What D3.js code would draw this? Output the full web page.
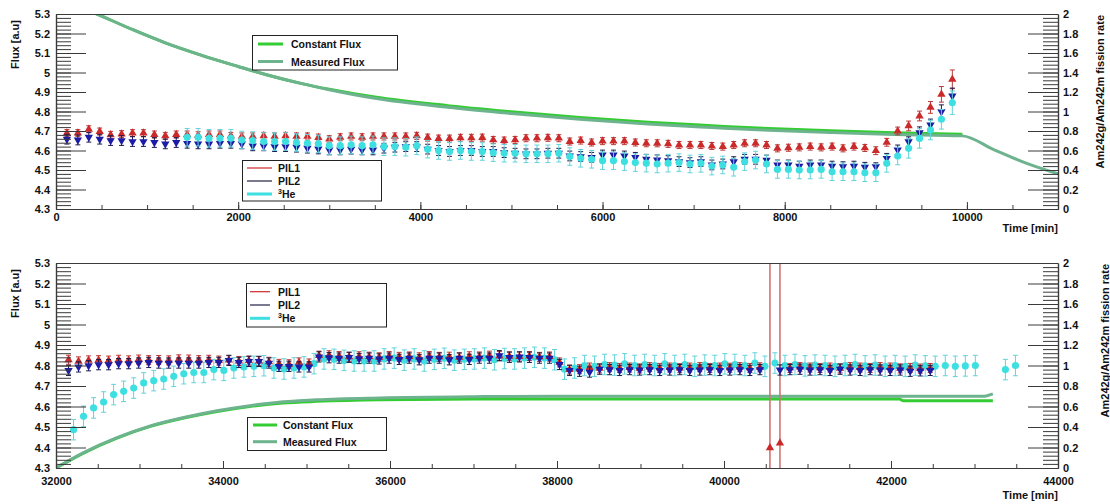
<!DOCTYPE html>
<html lang="en">
<head>
<meta charset="UTF-8">
<title>Flux and Am242g/Am242m fission rate</title>
<script src="https://d3js.org/d3.v7.min.js"></script>
<style>
    body { margin: 0; background: #fff; }
    svg text { font-family: "Liberation Sans", Arial, sans-serif; font-weight: bold; fill: #111; }
    .tick text { font-size: 11px; }
</style>
</head>
<body>
<svg id="chart" width="1110" height="504"></svg>

<script>
    // ---- Top panel data (time in min, flux in a.u.) ----
    const topTimes = [120, 240, 360, 480, 600, 720, 840, 960, 1080, 1200, 1320, 1440, 1560, 1680, 1800, 1920, 2040, 2160, 2280, 2400,
        2520, 2640, 2760, 2880, 3000, 3120, 3240, 3360, 3480, 3600, 3720, 3840, 3960, 4080, 4200, 4320, 4440, 4560, 4680, 4800,
        4920, 5040, 5160, 5280, 5400, 5520, 5640, 5760, 5880, 6000, 6120, 6240, 6360, 6480, 6600, 6720, 6840, 6960, 7080, 7200,
        7320, 7440, 7560, 7680, 7800, 7920, 8040, 8160, 8280, 8400, 8520, 8640, 8760, 8880, 9000, 9120, 9240, 9360, 9480, 9600,
        9720, 9840];
    const topPil1 = [4.689, 4.689, 4.709, 4.697, 4.680, 4.684, 4.689, 4.689, 4.682, 4.675, 4.682, 4.682, 4.678, 4.682, 4.682, 4.675,
        4.672, 4.672, 4.675, 4.672, 4.675, 4.672, 4.672, 4.666, 4.658, 4.668, 4.672, 4.668, 4.672,
        4.672, 4.672, 4.672, 4.675, 4.666, 4.661, 4.661, 4.665, 4.665, 4.666, 4.654, 4.651, 4.654, 4.663, 4.663, 4.665, 4.663,
        4.646, 4.651, 4.641, 4.648, 4.648, 4.648, 4.641, 4.637, 4.637, 4.634,
        4.628, 4.628, 4.628, 4.623, 4.620, 4.628, 4.637, 4.637,
        4.628, 4.611, 4.614, 4.616, 4.620, 4.616, 4.620, 4.611, 4.620, 4.613, 4.599, 4.642, 4.700, 4.726, 4.777, 4.821, 4.888, 4.965];
    const topPil2 = [4.658, 4.654, 4.668, 4.658, 4.651, 4.651, 4.646, 4.646, 4.641, 4.634, 4.641, 4.637, 4.634, 4.634, 4.637, 4.637,
        4.634, 4.624, 4.624, 4.620, 4.620, 4.617, 4.612, 4.608, 4.603, 4.603, 4.607, 4.603, 4.603,
        4.612, 4.617, 4.620, 4.620, 4.607, 4.600, 4.595, 4.600, 4.600, 4.595, 4.595, 4.589, 4.586, 4.583, 4.583, 4.586, 4.586,
        4.572, 4.569, 4.565, 4.577, 4.577, 4.572, 4.565, 4.555, 4.552, 4.548,
        4.543, 4.538, 4.543, 4.526, 4.531, 4.543, 4.555, 4.555,
        4.551, 4.526, 4.526, 4.520, 4.526, 4.526, 4.520, 4.517, 4.520, 4.514, 4.517, 4.560, 4.603, 4.645, 4.691, 4.731, 4.799, 4.880];
    const topHe3 = [null, null, null, null, null, null, null, null, null, null, null,
        4.668, 4.668, 4.663, 4.663, 4.663, 4.654, 4.651, 4.646, 4.646, 4.646, 4.641, 4.637, 4.634, 4.625, 4.625, 4.629, 4.625, 4.629,
        4.620, 4.620, 4.617, 4.624, 4.607, 4.600, 4.595, 4.600, 4.595, 4.595, 4.589, 4.586, 4.586, 4.583, 4.583, 4.583, 4.586,
        4.569, 4.560, 4.555, 4.548, 4.548, 4.543, 4.538, 4.535, 4.531, 4.535,
        4.538, 4.531, 4.534, 4.520, 4.526, 4.514, 4.543, 4.551,
        4.531, 4.503, 4.503, 4.500, 4.500, 4.503, 4.491, 4.491, 4.491, 4.486, 4.486, 4.534, 4.572, 4.611, 4.662, 4.705, 4.760, 4.845];
    // errors: default per series, larger ones on the last 8 points (9000-9840 min)
    const topErrDefault = { pil1: 0.018, pil2: 0.025, he3: 0.045 };
    const topTailErrPil1 = [0.02, 0.02, 0.02, 0.025, 0.025, 0.03, 0.04, 0.048];
    const topTailErrPil2 = [0.02, 0.025, 0.025, 0.025, 0.03, 0.03, 0.035, 0.04];
    const topTailErrHe3 = [0.045, 0.045, 0.045, 0.05, 0.05, 0.05, 0.05, 0.06];

    const topFluxTimes = [200, 450, 850, 1200, 1600, 2000, 2300, 2700, 3000, 3500, 4300, 5000, 5750, 6500, 7200, 7700, 8500, 9200, 9950, 10300, 10650, 11000];
    const topMeasuredFlux = [5.350, 5.300, 5.218, 5.152, 5.088, 5.031, 4.990, 4.943, 4.912, 4.868, 4.822, 4.790, 4.760, 4.736, 4.718, 4.706, 4.692, 4.682, 4.675, 4.603, 4.535, 4.480];
    const topConstantFluxTimes = [200, 450, 850, 1200, 1600, 2000, 2300, 2700, 3000, 3500, 4300, 5000, 5750, 6500, 7200, 7700, 8500, 9200, 9950];
    const topConstantFlux = [5.350, 5.300, 5.218, 5.152, 5.088, 5.031, 4.990, 4.943, 4.914, 4.874, 4.830, 4.799, 4.769, 4.745, 4.727, 4.715, 4.701, 4.691, 4.683];

    // ---- Bottom panel data ----
    const botPilTimes = [32150, 32270, 32390, 32510, 32630, 32750, 32870, 32990, 33110, 33230, 33350, 33470, 33590, 33710, 33830, 33950,
        34070, 34190, 34310, 34430, 34550, 34670, 34790, 34910, 35030, 35150, 35270, 35390, 35510, 35630, 35750, 35870, 35990,
        36110, 36230, 36350, 36470, 36590, 36710, 36830, 36950, 37070, 37190, 37310, 37430, 37550, 37670, 37790, 37910, 38030,
        38150, 38270, 38390, 38510, 38630, 38750, 38870, 38990, 39110, 39230, 39350, 39470, 39590, 39710, 39830, 39950, 40070,
        40190, 40310, 40430, 40550, 40670, 40790, 40910, 41030, 41150, 41270, 41390, 41510, 41630, 41750, 41870, 41990, 42110,
        42230, 42350, 42470];
    const botPil1 = [4.828, 4.820, 4.825, 4.826, 4.824, 4.828, 4.825, 4.829, 4.826, 4.827, 4.825, 4.830, 4.829, 4.826, 4.828, 4.824,
        4.826, 4.822, 4.824, 4.821, 4.818, 4.808, 4.806, 4.815, 4.810,
        4.848, 4.850, 4.846, 4.842, 4.845, 4.843, 4.840, 4.846, 4.842, 4.844, 4.840, 4.846, 4.842, 4.843, 4.840, 4.845, 4.844,
        4.848, 4.846, 4.845, 4.843, 4.846, 4.842, 4.844,
        4.815,
        4.780, 4.782, 4.790, 4.786, 4.792, 4.788, 4.790, 4.786, 4.792, 4.788, 4.790, 4.787, 4.790, 4.792, 4.788, 4.790, 4.789,
        4.792, 4.788, 4.791,
        4.398, 4.422,
        4.788, 4.792, 4.790, 4.788, 4.790, 4.786, 4.792, 4.790, 4.788, 4.792, 4.790, 4.786, 4.788, 4.785, 4.788];
    const botPil2 = [4.776, 4.793, 4.799, 4.804, 4.804, 4.809, 4.809, 4.812, 4.815, 4.812, 4.812, 4.812, 4.812, 4.812, 4.815, 4.815,
        4.825, 4.815, 4.820, 4.820, 4.812, 4.796, 4.796, 4.793, 4.793,
        4.842, 4.838, 4.836, 4.840, 4.834, 4.836, 4.832, 4.836, 4.830, 4.836, 4.828, 4.836, 4.836, 4.828, 4.836, 4.830, 4.836,
        4.836, 4.848, 4.840, 4.842, 4.840, 4.836, 4.836,
        4.805,
        4.776, 4.772, 4.768, 4.782, 4.780, 4.776, 4.780, 4.778, 4.780, 4.776, 4.778, 4.780, 4.776, 4.778, 4.780, 4.776, 4.778,
        4.780, 4.776, 4.780,
        null, 4.778,
        4.780, 4.782, 4.778, 4.780, 4.776, 4.782, 4.778, 4.776, 4.780, 4.778, 4.776, 4.778, 4.772, 4.774, 4.776];
    const botHe3Times = [32210, 32330, 32450, 32570, 32690, 32810, 32930, 33050, 33170, 33290, 33410, 33530, 33650, 33770, 33890, 34010,
        34130, 34250, 34370, 34490, 34610, 34730, 34850, 34970, 35090, 35210, 35330, 35450, 35570, 35690, 35810, 35930, 36050,
        36170, 36290, 36410, 36530, 36650, 36770, 36890, 37010, 37130, 37250, 37370, 37490, 37610, 37730, 37850, 37970, 38090,
        38210, 38330, 38450, 38570, 38690, 38810, 38930, 39050, 39170, 39290, 39410, 39530, 39650, 39770, 39890, 40010, 40130,
        40250, 40370, 40490, 40610, 40730, 40850, 40970, 41090, 41210, 41330, 41450, 41570, 41690, 41810, 41930, 42050, 42170,
        42290, 42410, 42530, 42650, 42770, 42890, 43010, 43370, 43490];
    const botHe3 = [4.487, 4.552, 4.593, 4.622, 4.658, 4.674, 4.690, 4.715, 4.726, 4.734, 4.747, 4.760, 4.766, 4.766, 4.780, 4.776,
        4.788, 4.793, 4.796, 4.799, 4.788, 4.783, 4.788, 4.793, 4.809, 4.832, 4.830, 4.825, 4.822, 4.822, 4.822,
        4.832, 4.836, 4.826, 4.832, 4.822, 4.830, 4.835, 4.826, 4.830, 4.832, 4.836, 4.828, 4.834, 4.832, 4.836, 4.840, 4.836, 4.828,
        4.782,
        4.788, 4.800, 4.796, 4.805, 4.802, 4.808, 4.800, 4.805, 4.800, 4.808, 4.800, 4.805, 4.796, 4.802, 4.800, 4.808, 4.805,
        4.800, 4.812, 4.796,
        4.812, 4.800, 4.805, 4.798, 4.802, 4.800, 4.796, 4.800, 4.805, 4.798, 4.802, 4.796, 4.800, 4.796, 4.802, 4.798, 4.796,
        4.800, 4.796, 4.798, 4.800,
        4.780, 4.800];
    const botErrDefault = { pil1: 0.022, pil2: 0.025, he3: 0.05 };
    const botOutlierErr = 2.0; // the two PIL1 outliers at ~40600 min have error bars spanning the whole frame

    const botFluxTimes = [32000, 32330, 32730, 33130, 33530, 33930, 34320, 34720, 35120, 35880, 37000, 38000, 40000, 42100, 42150, 43100, 43220];
    const botConstantFlux = [4.300, 4.373, 4.446, 4.503, 4.544, 4.576, 4.600, 4.617, 4.625, 4.633, 4.636, 4.636, 4.636, 4.636, 4.628, 4.628, 4.628];
    const botMeasuredFlux = [4.300, 4.375, 4.448, 4.505, 4.546, 4.579, 4.604, 4.623, 4.633, 4.642, 4.648, 4.650, 4.650, 4.650, 4.650, 4.650, 4.662];

    // ---- Styles ----
    const col = {
        pil1: "#cc2a2a", pil1Err: "#b63a3a", pil1Wide: "#d27474",
        pil2: "#1c1ca6", pil2Err: "#1b1b4a",
        he3: "#3ddfe0", he3Err: "#62d2da",
        constant: "#33cc33", measured: "#6cb38e",
        axis: "#3a3a3a"
    };

    const svg = d3.select("#chart");
    const X0 = 56, X1 = 1058;

    function errAt(defaultErr, tail, n, i) {
        const k = i - (n - tail.length);
        return k >= 0 ? tail[k] : defaultErr;
    }

    const triUp = d3.symbol().type(d3.symbolTriangle).size(30)();
    const circ = d3.symbol().type(d3.symbolCircle).size(40)();

    function drawSeries(g, x, y, times, vals, errs, kind) {
        const pts = times.map((t, i) => ({ t, v: vals[i], e: errs[i] })).filter(d => d.v != null);
        const color = col[kind], ecolor = col[kind + "Err"];
        const eg = g.append("g").attr("stroke", ecolor).attr("stroke-width", 1);
        pts.forEach(d => {
            const xx = x(d.t), y1 = y(d.v - d.e), y2 = y(d.v + d.e);
            const wide = d.e > 1;
            eg.append("line").attr("x1", xx).attr("x2", xx).attr("y1", y1).attr("y2", y2)
                .attr("stroke", wide ? col.pil1Wide : null)
                .attr("stroke-width", wide ? 1.6 : 1);
            eg.append("line").attr("x1", xx - 2.5).attr("x2", xx + 2.5).attr("y1", y1).attr("y2", y1);
            eg.append("line").attr("x1", xx - 2.5).attr("x2", xx + 2.5).attr("y1", y2).attr("y2", y2);
        });
        g.append("g").selectAll("path")
            .data(pts)
            .join("path")
            .attr("d", kind === "he3" ? circ : triUp)
            .attr("transform", d => "translate(" + x(d.t) + "," + y(d.v) + ")" + (kind === "pil2" ? " rotate(180)" : ""))
            .attr("fill", color);
    }

    function drawFlux(g, x, y, times, vals, color) {
        const line = d3.line()
            .x((d, i) => x(times[i]))
            .y(d => y(d))
            .curve(d3.curveMonotoneX);
        g.append("path")
            .attr("d", line(vals))
            .attr("fill", "none")
            .attr("stroke", color)
            .attr("stroke-width", 3);
    }

    function drawAxes(top, bottom, x, y, yR, majorX, minorX, xPad) {
        const ag = svg.append("g").attr("color", col.axis);

        // left axis (ticks inside)
        ag.append("g").attr("transform", "translate(" + X0 + ",0)")
            .call(d3.axisLeft(y).tickValues(d3.range(4.3, 5.3001, 0.02)).tickSize(-15).tickSizeOuter(0).tickFormat(""));
        ag.append("g").attr("transform", "translate(" + X0 + ",0)")
            .call(d3.axisLeft(y).tickValues(d3.range(4.3, 5.3001, 0.1)).tickSize(-30).tickSizeOuter(0).tickPadding(6)
                .tickFormat(d3.format(".2~f")));

        // right axis (ratio)
        ag.append("g").attr("transform", "translate(" + X1 + ",0)")
            .call(d3.axisRight(yR).tickValues(d3.range(0, 2.0001, 0.04)).tickSize(-15).tickSizeOuter(0).tickFormat(""));
        ag.append("g").attr("transform", "translate(" + X1 + ",0)")
            .call(d3.axisRight(yR).tickValues(d3.range(0, 2.0001, 0.2)).tickSize(-30).tickSizeOuter(0).tickPadding(5)
                .tickFormat(d3.format(".1~f")));

        // bottom axis
        ag.append("g").attr("transform", "translate(0," + bottom + ")")
            .call(d3.axisBottom(x).tickValues(minorX).tickSize(-4).tickSizeOuter(0).tickFormat(""));
        ag.append("g").attr("transform", "translate(0," + bottom + ")")
            .call(d3.axisBottom(x).tickValues(majorX).tickSize(-7).tickSizeOuter(0).tickPadding(xPad).tickFormat(d3.format("d")));

        // top frame line
        ag.append("line").attr("x1", X0).attr("x2", X1).attr("y1", top + 0.5).attr("y2", top + 0.5)
            .attr("stroke", col.axis);
        ag.selectAll(".domain").attr("stroke-width", 1.2);
    }

    function legendBox(x, y, w, h, items, lineX1, lineX2, textX) {
        const lg = svg.append("g");
        lg.append("rect").attr("x", x).attr("y", y).attr("width", w).attr("height", h)
            .attr("fill", "#fff").attr("stroke", "#222").attr("stroke-width", 1);
        items.forEach(it => {
            lg.append("line").attr("x1", lineX1).attr("x2", lineX2).attr("y1", it.y).attr("y2", it.y)
                .attr("stroke", it.color).attr("stroke-width", it.width);
            const t = lg.append("text").attr("x", textX).attr("y", it.y + 4).attr("font-size", 10.5);
            if (it.sup) {
                t.append("tspan").attr("font-size", 7).attr("dy", -4).text(it.sup);
                t.append("tspan").attr("dy", 4).text(it.label);
            } else {
                t.text(it.label);
            }
        });
    }

    function titles(top, bottom, rightTitleX, timeDy) {
        svg.append("text")
            .attr("transform", "translate(19," + (top + 6) + ") rotate(-90)")
            .attr("text-anchor", "end").attr("font-size", 11)
            .text("Flux [a.u]");
        svg.append("text")
            .attr("transform", "translate(" + rightTitleX + "," + (top + 1) + ") rotate(-90)")
            .attr("text-anchor", "end").attr("font-size", 11)
            .text("Am242g/Am242m fission rate");
        svg.append("text")
            .attr("x", X1).attr("y", bottom + timeDy)
            .attr("text-anchor", "end").attr("font-size", 11)
            .text("Time [min]");
    }

    // ================= TOP PANEL =================
    (function () {
        const top = 14, bottom = 209;
        const x = d3.scaleLinear().domain([0, 11000]).range([X0, X1]);
        const y = d3.scaleLinear().domain([4.3, 5.3]).range([bottom, top]);
        const yR = d3.scaleLinear().domain([0, 2]).range([bottom, top]);

        svg.append("clipPath").attr("id", "clipTop").append("rect")
            .attr("x", X0).attr("y", top).attr("width", X1 - X0).attr("height", bottom - top);
        const g = svg.append("g").attr("clip-path", "url(#clipTop)");

        drawFlux(g, x, y, topConstantFluxTimes, topConstantFlux, col.constant);
        drawFlux(g, x, y, topFluxTimes, topMeasuredFlux, col.measured);

        const n = topTimes.length;
        const e1 = topTimes.map((t, i) => errAt(topErrDefault.pil1, topTailErrPil1, n, i));
        const e2 = topTimes.map((t, i) => errAt(topErrDefault.pil2, topTailErrPil2, n, i));
        const e3 = topTimes.map((t, i) => errAt(topErrDefault.he3, topTailErrHe3, n, i));
        drawSeries(g, x, y, topTimes, topPil1, e1, "pil1");
        drawSeries(g, x, y, topTimes, topPil2, e2, "pil2");
        drawSeries(g, x, y, topTimes, topHe3, e3, "he3");

        drawAxes(top, bottom, x, y, yR, d3.range(0, 10001, 2000), d3.range(0, 11001, 500), 4.5);

        legendBox(252.5, 35.5, 145, 34.5, [
            { y: 44, color: col.constant, width: 3, label: "Constant Flux" },
            { y: 61.5, color: col.measured, width: 3, label: "Measured Flux" }
        ], 258, 283, 291);
        legendBox(242.5, 160.5, 139, 40.5, [
            { y: 168, color: col.pil1, width: 1.2, label: "PIL1" },
            { y: 181, color: "#222244", width: 1.2, label: "PIL2" },
            { y: 194, color: col.he3, width: 3, label: "He", sup: "3" }
        ], 247, 272, 278);

        titles(top, bottom, 1104, 23);
    })();

    // ================= BOTTOM PANEL =================
    (function () {
        const top = 263, bottom = 468;
        const x = d3.scaleLinear().domain([32000, 44000]).range([X0, X1]);
        const y = d3.scaleLinear().domain([4.3, 5.3]).range([bottom, top]);
        const yR = d3.scaleLinear().domain([0, 2]).range([bottom, top]);

        svg.append("clipPath").attr("id", "clipBot").append("rect")
            .attr("x", X0).attr("y", top).attr("width", X1 - X0).attr("height", bottom - top);
        const g = svg.append("g").attr("clip-path", "url(#clipBot)");

        drawFlux(g, x, y, botFluxTimes, botConstantFlux, col.constant);
        drawFlux(g, x, y, botFluxTimes, botMeasuredFlux, col.measured);

        const e1 = botPil1.map(v => (v != null && v < 4.5) ? botOutlierErr : botErrDefault.pil1);
        const e2 = botPil2.map(() => botErrDefault.pil2);
        const e3 = botHe3.map(() => botErrDefault.he3);
        drawSeries(g, x, y, botHe3Times, botHe3, e3, "he3");
        drawSeries(g, x, y, botPilTimes, botPil1, e1, "pil1");
        drawSeries(g, x, y, botPilTimes, botPil2, e2, "pil2");

        drawAxes(top, bottom, x, y, yR, d3.range(32000, 44001, 2000), d3.range(32000, 44001, 500), 9.5);

        legendBox(246.5, 283.5, 140, 43.5, [
            { y: 291.7, color: col.pil1, width: 1.2, label: "PIL1" },
            { y: 305, color: "#222244", width: 1.2, label: "PIL2" },
            { y: 318.3, color: col.he3, width: 3, label: "He", sup: "3" }
        ], 250, 270, 278);
        legendBox(247.5, 417.5, 139, 33, [
            { y: 425, color: col.constant, width: 3, label: "Constant Flux" },
            { y: 441.7, color: col.measured, width: 3, label: "Measured Flux" }
        ], 253, 277, 283);

        titles(top, bottom, 1108.5, 31);
    })();
</script>
</body>
</html>
